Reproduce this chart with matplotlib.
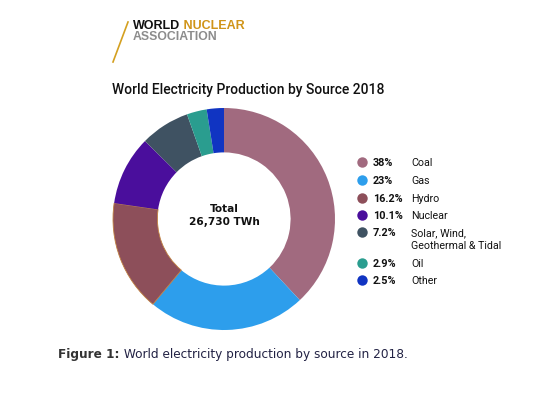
import matplotlib.pyplot as plt
from matplotlib.lines import Line2D

sources = ['Coal', 'Gas', 'Hydro', 'Nuclear', 'Solar, Wind,\nGeothermal & Tidal', 'Oil', 'Other']
shares = [38, 23, 16.2, 10.1, 7.2, 2.9, 2.5]
share_labels = ['38%', '23%', '16.2%', '10.1%', '7.2%', '2.9%', '2.5%']
colors = ['#A16A7F', '#2D9EEC', '#8D4F5A', '#4A0E9C', '#3F5262', '#2A9D8F', '#1034C2']
total_label = 'Total\n26,730 TWh'

W, H = 551, 414
fig = plt.figure(figsize=(W / 100, H / 100), dpi=100)
fig.patch.set_facecolor('white')

# donut
cx, cy, r = 224, 220, 111
ax = fig.add_axes([(cx - r) / W, (H - cy - r) / H, 2 * r / W, 2 * r / H])
wedges, _ = ax.pie(shares, colors=colors, startangle=90, counterclock=False,
                   radius=1, wedgeprops=dict(width=0.4, linewidth=0))
wedges[2].set_edgecolor('#C08040')
wedges[2].set_linewidth(0.6)
ax.set_xlim(-1, 1)
ax.set_ylim(-1, 1)
ax.set_aspect('equal')
ax.text(0, 0.04, total_label, ha='center', va='center', fontsize=7.6,
        fontweight='bold', color='#111111', linespacing=1.35)

# overlay in pixel coordinates for logo, title, legend, caption
ov = fig.add_axes([0, 0, 1, 1])
ov.set_xlim(0, W)
ov.set_ylim(H, 0)
ov.axis('off')
ov.patch.set_alpha(0)

# logo
ov.add_line(Line2D([113, 128], [63, 23], color='#D4A020', lw=1.2))
w1 = ov.text(133, 26, 'WORLD', fontsize=9, fontweight='bold', color='#111111',
             va='center', ha='left', family='Liberation Sans')
ov.annotate(' NUCLEAR', xy=(1, 0.5), xycoords=w1, fontsize=9, fontweight='bold',
            color='#D09418', va='center', ha='left', family='Liberation Sans')
ov.text(133, 37.5, 'ASSOCIATION', fontsize=8.8, fontweight='bold', color='#8C8C8C',
        va='center', ha='left', family='Liberation Sans')

# title
ov.text(112, 90, 'World Electricity Production by Source 2018', fontsize=10,
        color='#111111', va='center', ha='left', family='Roboto', fontweight='medium')

# legend
row_y = [163, 181, 199, 216, 233, 264, 281]
for i in range(len(sources)):
    ov.plot(362, row_y[i], 'o', ms=7.5, color=colors[i], mec='none')
    ov.text(373, row_y[i], share_labels[i], fontsize=7.8, fontweight='bold',
            va='center', ha='left', color='#111111', family='Roboto')
    ov.text(411, row_y[i] - 4.5, sources[i], fontsize=7.7, va='top', ha='left',
            color='#111111', family='Roboto', linespacing=1.3)

# caption
c1 = ov.text(58, 355, 'Figure 1:', fontsize=8.7, fontweight='bold', color='#333333',
             va='center', ha='left')
ov.annotate(' World electricity production by source in 2018.', xy=(1, 0.5),
            xycoords=c1, fontsize=8.7, color='#222244', va='center', ha='left')

fig.savefig('out.png', dpi=100)
